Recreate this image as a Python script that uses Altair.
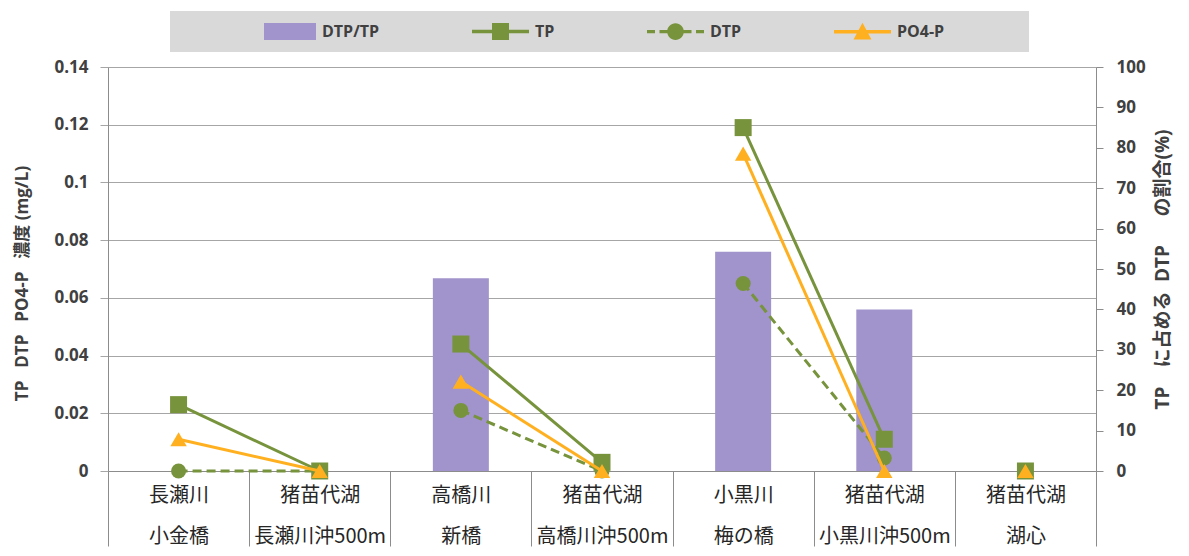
import altair as alt
import pandas as pd

# ---- data ----
site_line1 = ["長瀬川", "猪苗代湖", "高橋川", "猪苗代湖", "小黒川", "猪苗代湖", "猪苗代湖"]
site_line2 = ["小金橋", "長瀬川沖500m", "新橋", "高橋川沖500m", "梅の橋", "小黒川沖500m", "湖心"]
pair_group = [1, 1, 2, 2, 3, 3, 4]
tp_values = [0.023, 0.0, 0.044, 0.003, 0.119, 0.011, 0.0]
dtp_values = [0.0, 0.0, 0.021, 0.0, 0.065, 0.0045, 0.0]
po4_values = [0.011, 0.0, 0.031, 0.0, 0.110, 0.0, 0.0]
dtp_tp_ratio = [0.0, 0.0, 47.7, 0.0, 54.3, 40.0, 0.0]
series_names = ["DTP/TP", "TP", "DTP", "PO4-P"]
left_ticks = [0, 0.02, 0.04, 0.06, 0.08, 0.10, 0.12, 0.14]
right_ticks = [0, 10, 20, 30, 40, 50, 60, 70, 80, 90, 100]

PURPLE = "#a193cb"
GREEN = "#77933c"
ORANGE = "#ffb020"
GRID = "#a6a6a6"
AXIS = "#8c8c8c"
TXT = "#404040"
LATIN = "Open Sans, Noto Sans CJK JP"

df = pd.DataFrame({
    "site": [f"{a}|{b}" for a, b in zip(site_line1, site_line2)],
    "pair": pair_group,
    "TP": tp_values,
    "DTP": dtp_values,
    "PO4": po4_values,
    "ratio": dtp_tp_ratio,
})

x_axis = alt.Axis(
    title=None, labelAngle=0, labelExpr="split(datum.label, '|')",
    labelFont="Noto Sans CJK JP", labelFontSize=20, labelColor="#262626",
    labelLineHeight=41, labelPadding=-61, labelOverlap=False,
    tickBand="extent", tickSize=75, tickColor=AXIS, tickWidth=1,
    domainColor=AXIS, grid=False,
)
x_enc = alt.X("site:N", sort=None, title=None,
              scale=alt.Scale(paddingInner=0, paddingOuter=0), axis=x_axis)

left_axis = alt.Axis(
    values=left_ticks, format=".2~f", grid=True, gridColor=GRID, gridWidth=1,
    tickSize=8, tickColor=GRID, domainColor=AXIS,
    labelFont="Open Sans", labelFontWeight="bold", labelFontSize=17, labelColor=TXT,
    labelPadding=12,
    title="TP\u2002 DTP\u2002 PO4-P\u2002 濃度 (mg/L)", titleFont=LATIN,
    titleFontWeight="bold", titleFontSize=17, titleColor=TXT, titlePadding=22,
    titleY=216,
)
right_axis = alt.Axis(
    orient="right", values=right_ticks, grid=False,
    tickSize=7, tickColor=AXIS, domainColor=AXIS,
    labelFont="Open Sans", labelFontWeight="bold", labelFontSize=17, labelColor=TXT,
    labelPadding=13,
    title="TP\u3000に占める\u2002DTP\u3000\u2002の割合(%)", titleFont=LATIN,
    titleFontWeight="bold", titleFontSize=19, titleColor=TXT, titlePadding=8,
    titleAngle=270, titleBaseline="top",
)


def y_left(field):
    return alt.Y(f"{field}:Q", scale=alt.Scale(domain=[0, 0.14], nice=False), axis=left_axis)


base = alt.Chart(df)

bars = base.mark_bar(width=56, color=PURPLE).encode(
    x=x_enc,
    y=alt.Y("ratio:Q", scale=alt.Scale(domain=[0, 100], nice=False), axis=right_axis),
)

tp_line = base.mark_line(color=GREEN, strokeWidth=3).encode(x=x_enc, y=y_left("TP"), detail="pair:N")
tp_pts = base.mark_point(shape="square", filled=True, size=289, color=GREEN, opacity=1).encode(x=x_enc, y=y_left("TP"))
dtp_line = base.mark_line(color=GREEN, strokeWidth=3, strokeDash=[9, 5]).encode(x=x_enc, y=y_left("DTP"), detail="pair:N")
dtp_pts = base.mark_point(shape="circle", filled=True, size=225, color=GREEN, opacity=1).encode(x=x_enc, y=y_left("DTP"))
po4_line = base.mark_line(color=ORANGE, strokeWidth=3).encode(x=x_enc, y=y_left("PO4"), detail="pair:N")
po4_pts = base.mark_point(shape="triangle-up", filled=True, size=270, color=ORANGE, opacity=1).encode(x=x_enc, y=y_left("PO4"))

# legend symbols (unit = 8.5 px): swatch, line+square, dashed line+circle, line+triangle.
# The lone move-to point in the last one stretches the grey band to the right like the original.
legend_paths = [
    "M-2.765,-1H3.353V1H-2.765Z",
    "M-3.353,-0.2H3.353V0.2H-3.353Z M-1,-1H1V1H-1Z",
    "M-3.353,-0.2H-2.412V0.2H-3.353Z M-1.882,-0.2H-0.941V0.2H-1.882Z "
    "M0.941,-0.2H1.882V0.2H0.941Z M2.412,-0.2H3.353V0.2H2.412Z "
    "M-0.98,0A0.98,0.98 0 1,1 0.98,0A0.98,0.98 0 1,1 -0.98,0Z",
    "M-3.353,-0.2H3.353V0.2H-3.353Z M0,-1.05L1.05,0.9H-1.05Z M18.06,0Z",
]
legend_cfg = alt.Legend(
    title=None,
    orient="none", legendX=62, legendY=-56, direction="horizontal",
    fillColor="#d9d9d9", padding=12, columnPadding=15,
    labelFont="Open Sans", labelFontWeight="bold", labelFontSize=16, labelColor=TXT,
    symbolSize=289, symbolOffset=97, labelOffset=26,
    symbolStrokeWidth=0, symbolOpacity=1,
)
legend_df = pd.DataFrame({"series": series_names})
legend_layer = alt.Chart(legend_df).transform_filter("false").mark_point(filled=True, opacity=1).encode(
    color=alt.Color("series:N", scale=alt.Scale(domain=series_names, range=[PURPLE, GREEN, GREEN, ORANGE]), legend=legend_cfg),
    shape=alt.Shape("series:N", scale=alt.Scale(domain=series_names, range=legend_paths), legend=legend_cfg),
)

lines_layer = alt.layer(tp_line, tp_pts, dtp_line, dtp_pts, po4_line, po4_pts, legend_layer)

chart = alt.layer(bars, lines_layer).resolve_scale(y="independent").properties(
    width=988, height=404,
    padding={"left": 5, "top": 3, "right": 2, "bottom": 0},
).configure_view(stroke=None).configure(background="white")

chart.save("out.html", embed_options={"renderer": "svg", "actions": False})
